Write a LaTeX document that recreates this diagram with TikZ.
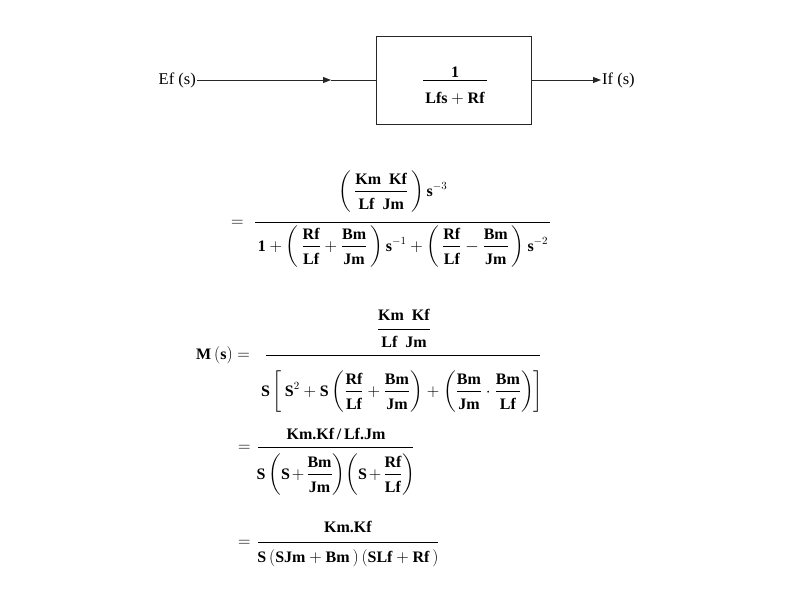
\documentclass[tikz,border=0pt]{standalone}
\usepackage{amsmath}
\usepackage{fontspec}
\setmainfont{Liberation Serif}
\usetikzlibrary{arrows.meta}
\newcommand\tb[1]{\textbf{#1}}
\newcommand\fr[2]{\dfrac{#1\rule[-5pt]{0pt}{0pt}}{\rule{0pt}{15pt}#2}}
\tikzset{
  conn/.style={draw=black!85, line width=0.9pt},
  arr/.style={conn, -{Triangle[length=8pt,width=6pt]}},
  blk/.style={draw=black!85, line width=0.9pt, minimum width=155pt, minimum height=88pt, inner sep=0pt},
  lbl/.style={font=\fontsize{16.5}{18}\selectfont, inner sep=1pt},
  eqn/.style={font=\fontsize{16}{18}\selectfont, inner sep=0pt},
  frline/.style={draw=black, line width=0.8pt}
}
\begin{document}
\begin{tikzpicture}[x=1pt,y=-1pt]
\useasboundingbox (0,0) rectangle (800,600);
% ---------- block diagram
\node[lbl, anchor=east] (ef) at (197,80) {Ef (s)};
\node[blk] (box) at (453.5,80) {};
\node[eqn, anchor=base] (bnum) at (455,77.5) {\tb{1}};
\node[eqn, anchor=base] (bden) at (455,103) {$\tb{Lfs}+\tb{Rf}$};
\draw[frline] (423,80) -- (487,80);
\coordinate (mid) at (331,80);
\node[lbl, anchor=west] (iff) at (601,80) {If (s)};
\draw[arr] (ef.east) -- (mid);
\draw[conn] (mid) -- (box.west);
\draw[arr] (box.east) -- (iff.west);
% ---------- equation 1
\node[eqn, anchor=base west] (e1eq) at (231,226) {$=$};
\node[eqn, anchor=base] (e1num) at (393,196) {$\left(\,\fr{\tb{Km\ \ Kf}}{\tb{Lf\ \ Jm}}\,\right)\tb{s}^{-3}$};
\node[eqn, anchor=base] (e1den) at (403,251) {$\tb{1}+\left(\,\fr{\tb{Rf}}{\tb{Lf}}+\fr{\tb{Bm}}{\tb{Jm}}\,\right)\tb{s}^{-1}+\left(\,\fr{\tb{Rf}}{\tb{Lf}}-\fr{\tb{Bm}}{\tb{Jm}}\,\right)\tb{s}^{-2}$};
\draw[frline] (255,222) -- (550,222);
% ---------- equation 2
\node[eqn, anchor=base west] (e2eq) at (196,359) {$\tb{M}\left(\tb{s}\right)=$};
\node[eqn, anchor=base] (e2num) at (404,334) {$\dfrac{\tb{Km\ \ Kf}\rule[-7pt]{0pt}{0pt}}{\rule{0pt}{15pt}\tb{Lf\ \ Jm}}$};
\node[eqn, anchor=base] (e2den) at (402,396) {$\tb{S}\left[\,\tb{S}^{2}+\tb{S}\left(\fr{\tb{Rf}}{\tb{Lf}}+\fr{\tb{Bm}}{\tb{Jm}}\right)+\left(\fr{\tb{Bm}}{\tb{Jm}}\cdot\fr{\tb{Bm}}{\tb{Lf}}\right)\right]$};
\draw[frline] (266,355) -- (540,355);
% ---------- equation 3
\node[eqn, anchor=base west] (e3eq) at (238,451) {$=$};
\node[eqn, anchor=base] (e3num) at (336,439) {\tb{Km.Kf\,/\,Lf.Jm}};
\node[eqn, anchor=base] (e3den) at (336,479) {\medmuskip=2mu$\tb{S}\left(\tb{S}+\fr{\tb{Bm}}{\tb{Jm}}\right)\!\left(\tb{S}+\fr{\tb{Rf}}{\tb{Lf}}\right)$};
\draw[frline] (258,447) -- (413,447);
% ---------- equation 4
\node[eqn, anchor=base west] (e4eq) at (238,546) {$=$};
\node[eqn, anchor=base] (e4num) at (348,532) {\tb{Km.Kf}};
\node[eqn, anchor=base] (e4den) at (348,562) {$\tb{S}\left(\tb{SJm}+\tb{Bm}\,\right)\left(\tb{SLf}+\tb{Rf}\,\right)$};
\draw[frline] (258,542) -- (438,542);
\end{tikzpicture}
\end{document}
